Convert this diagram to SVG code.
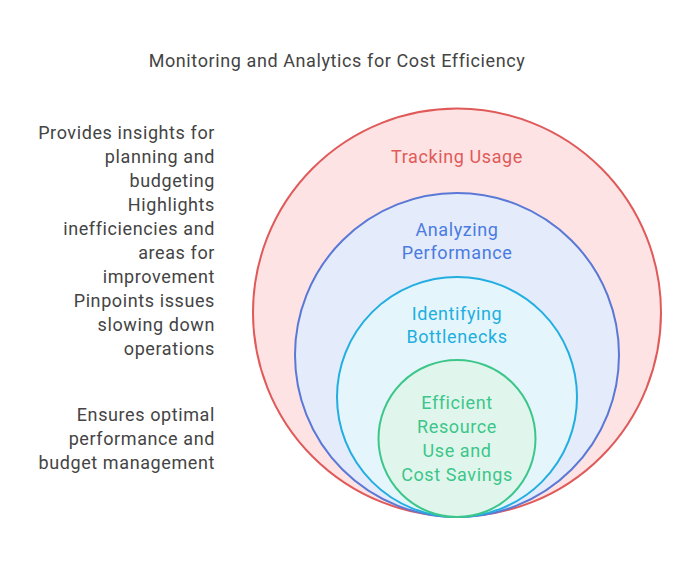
<svg xmlns="http://www.w3.org/2000/svg" width="686" height="567" viewBox="0 0 686 567">
<style>
text{font-family:Roboto,"Liberation Sans",sans-serif;font-size:18px;letter-spacing:0.6px}
.l{fill:#444;text-anchor:end}
.c{text-anchor:middle}
</style>
<rect width="686" height="567" fill="#fff"/>
<text x="337" y="67" class="c" fill="#444">Monitoring and Analytics for Cost Efficiency</text>
<g id="tracking"><circle cx="457" cy="312.5" r="204" fill="#fde3e3" stroke="#e05a5a" stroke-width="2"/>
<text x="457" y="163" class="c" fill="#e05a5a">Tracking Usage</text></g>
<g id="analyzing"><circle cx="457" cy="355" r="162" fill="#e4ebfb" stroke="#5a78d6" stroke-width="2"/>
<text x="457" y="236" class="c" fill="#4a7be0">Analyzing</text><text x="457" y="259" class="c" fill="#4a7be0">Performance</text></g>
<g id="identifying"><circle cx="457" cy="397" r="120" fill="#e4f6fc" stroke="#22aee0" stroke-width="2"/>
<text x="457" y="320" class="c" fill="#1eaee0">Identifying</text><text x="457" y="343" class="c" fill="#1eaee0">Bottlenecks</text></g>
<g id="efficient"><circle cx="457" cy="438.5" r="78.5" fill="#e0f6ec" stroke="#3cc68a" stroke-width="2"/>
<text x="457" y="409" class="c" fill="#3cc68a">Efficient</text><text x="457" y="433" class="c" fill="#3cc68a">Resource</text><text x="457" y="457" class="c" fill="#3cc68a">Use and</text><text x="457" y="481" class="c" fill="#3cc68a">Cost Savings</text></g>
<g id="labels">
<text x="215" y="139" class="l">Provides insights for</text>
<text x="215" y="163" class="l">planning and</text>
<text x="215" y="187" class="l">budgeting</text>
<text x="215" y="211" class="l">Highlights</text>
<text x="215" y="235" class="l">inefficiencies and</text>
<text x="215" y="259" class="l">areas for</text>
<text x="215" y="283" class="l">improvement</text>
<text x="215" y="307" class="l">Pinpoints issues</text>
<text x="215" y="331" class="l">slowing down</text>
<text x="215" y="355" class="l">operations</text>
<text x="215" y="421" class="l">Ensures optimal</text>
<text x="215" y="445" class="l">performance and</text>
<text x="215" y="469" class="l">budget management</text>
</g>
<g id="connectors"></g>
</svg>
